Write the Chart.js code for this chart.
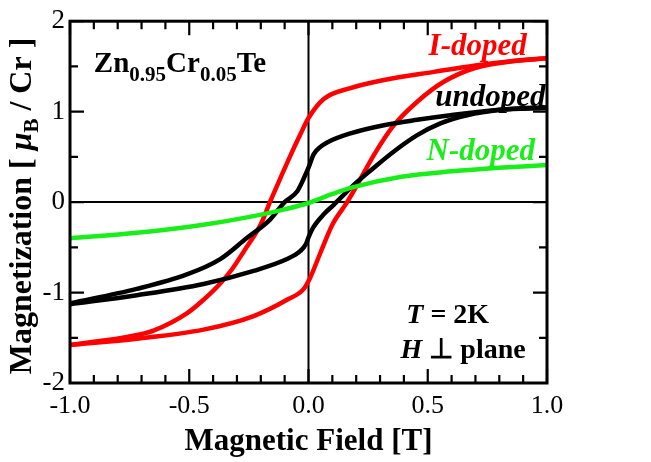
<!DOCTYPE html>
<html>
<head>
<meta charset="utf-8">
<script src="https://cdn.jsdelivr.net/npm/chart.js@4.4.0/dist/chart.umd.min.js"></script>
<style>
html,body{margin:0;padding:0;background:#fff;}
#wrap{width:651px;height:462px;position:relative;}
</style>
</head>
<body>
<div id="wrap"><canvas id="c" width="651" height="462"></canvas></div>
<script>
// ---- data ----
const xTickValues = [-1.0, -0.5, 0.0, 0.5, 1.0];
const yTickValues = [-2, -1, 0, 1, 2];

// I-doped loop (red): field-decreasing and field-increasing branches
const iDownField = [-1.0, -0.86, -0.76, -0.65, -0.51, -0.44, -0.37, -0.32, -0.27, -0.20, -0.16, -0.117, -0.075, -0.034, 0.0, 0.064, 0.176, 0.316, 0.526, 0.70, 0.86, 1.0];
const iDownMag   = [-1.58, -1.53, -1.49, -1.42, -1.23, -1.08, -0.90, -0.74, -0.54, -0.245, 0.01, 0.27, 0.52, 0.75, 0.93, 1.14, 1.26, 1.35, 1.44, 1.51, 1.56, 1.59];
const iUpField   = [-1.0, -0.72, -0.44, -0.23, -0.09, -0.02, 0.008, 0.05, 0.10, 0.162, 0.204, 0.274, 0.358, 0.456, 0.567, 0.694, 0.86, 1.0];
const iUpMag     = [-1.58, -1.51, -1.41, -1.26, -1.08, -0.96, -0.83, -0.56, -0.25, 0.0, 0.19, 0.52, 0.85, 1.11, 1.33, 1.48, 1.56, 1.59];

// undoped loop (black)
const uDownField = [-1.0, -0.72, -0.51, -0.37, -0.26, -0.16, -0.10, -0.047, -0.02, 0.0, 0.022, 0.05, 0.078, 0.176, 0.316, 0.456, 0.595, 0.8, 1.0];
const uDownMag   = [-1.12, -0.96, -0.80, -0.63, -0.40, -0.19, 0.0, 0.12, 0.26, 0.38, 0.53, 0.61, 0.66, 0.76, 0.85, 0.91, 0.96, 1.02, 1.04];
const uUpField   = [-1.0, -0.72, -0.44, -0.23, -0.09, -0.034, -0.01, 0.0, 0.02, 0.064, 0.106, 0.19, 0.274, 0.358, 0.456, 0.553, 0.665, 0.805, 1.0];
const uUpMag     = [-1.13, -1.03, -0.905, -0.76, -0.63, -0.54, -0.46, -0.39, -0.28, -0.135, -0.03, 0.19, 0.38, 0.56, 0.74, 0.87, 0.96, 1.02, 1.05];

// N-doped (green)
const nField = [-1.0, -0.72, -0.44, -0.23, -0.1, 0.0, 0.1, 0.18, 0.39, 0.6, 0.8, 1.0];
const nMag   = [-0.40, -0.34, -0.25, -0.155, -0.08, -0.01, 0.09, 0.16, 0.28, 0.34, 0.38, 0.41];

const pts = (xs, ys) => xs.map((x, i) => ({x: x, y: ys[i]}));

const SERIF = '"Liberation Serif", "Times New Roman", serif';
const RED = '#ff0000', BLACK = '#000000', GREEN = '#1aee1a';

function lineDs(data, color) {
  return {data: data, borderColor: color, backgroundColor: color, borderWidth: 4.5,
          showLine: true, pointRadius: 0, cubicInterpolationMode: 'monotone', fill: false,
          borderCapStyle: 'round', borderJoinStyle: 'round'};
}

const decor = {
  id: 'decor',
  beforeDatasetsDraw(chart) {
    const {ctx, chartArea: a, scales: {x, y}} = chart;
    ctx.save();
    ctx.strokeStyle = '#000';
    ctx.lineWidth = 2;
    const x0 = x.getPixelForValue(0), y0 = y.getPixelForValue(0);
    ctx.beginPath();
    ctx.moveTo(x0, a.top); ctx.lineTo(x0, a.bottom);
    ctx.moveTo(a.left, y0); ctx.lineTo(a.right, y0);
    ctx.stroke();
    ctx.restore();
  },
  afterDatasetsDraw(chart) {
    const {ctx, chartArea: a, scales: {x, y}} = chart;
    ctx.save();
    ctx.strokeStyle = '#000';
    // ticks (inward, all four sides)
    ctx.lineWidth = 2.2;
    ctx.beginPath();
    for (let i = -10; i <= 10; i++) {
      const v = i / 10;
      const px = x.getPixelForValue(v);
      const len = (i % 5 === 0) ? 14 : 8;
      ctx.moveTo(px, a.bottom); ctx.lineTo(px, a.bottom - len);
      ctx.moveTo(px, a.top); ctx.lineTo(px, a.top + len);
    }
    for (let i = -4; i <= 4; i++) {
      const v = i / 2;
      const py = y.getPixelForValue(v);
      const len = (i % 2 === 0) ? 14 : 8;
      ctx.moveTo(a.left, py); ctx.lineTo(a.left + len, py);
      ctx.moveTo(a.right, py); ctx.lineTo(a.right - len, py);
    }
    ctx.stroke();
    // frame
    ctx.lineWidth = 3;
    ctx.strokeRect(a.left, a.top, a.right - a.left, a.bottom - a.top);

    // helpers
    function runs(parts, startX, baseY, align) {
      let total = 0;
      parts.forEach(p => { ctx.font = p.f; total += ctx.measureText(p.t).width; });
      let cx = align === 'right' ? startX - total : startX;
      ctx.textAlign = 'left';
      ctx.textBaseline = 'alphabetic';
      parts.forEach(p => {
        ctx.font = p.f; ctx.fillStyle = p.c || '#000';
        ctx.fillText(p.t, cx, baseY + (p.dy || 0));
        cx += ctx.measureText(p.t).width;
      });
    }
    const B = s => 'bold ' + s + 'px ' + SERIF;
    const BI = s => 'italic bold ' + s + 'px ' + SERIF;

    // curve labels
    runs([{t: 'I-doped', f: BI(31), c: RED}], x.getPixelForValue(0.915), y.getPixelForValue(1.63), 'right');
    runs([{t: 'undoped', f: BI(31), c: BLACK}], x.getPixelForValue(0.994), y.getPixelForValue(1.066), 'right');
    runs([{t: 'N-doped', f: BI(31), c: GREEN}], x.getPixelForValue(0.95), y.getPixelForValue(0.46), 'right');

    // compound
    runs([
      {t: 'Zn', f: B(29)}, {t: '0.95', f: B(21), dy: 9},
      {t: 'Cr', f: B(29)}, {t: '0.05', f: B(21), dy: 9},
      {t: 'Te', f: B(29)}
    ], x.getPixelForValue(-0.90), y.getPixelForValue(1.44), 'left');

    // conditions
    runs([{t: 'T', f: BI(28)}, {t: ' = 2K', f: B(28)}], x.getPixelForValue(0.41), y.getPixelForValue(-1.34), 'left');
    runs([{t: 'H', f: BI(28)}, {t: ' \u22A5 plane', f: B(28)}], x.getPixelForValue(0.386), y.getPixelForValue(-1.725), 'left');

    // y-axis title (rotated)
    const yParts = [
      {t: 'Magnetization [ ', f: B(32)},
      {t: '\u03BC', f: BI(32)},
      {t: 'B', f: B(21), dy: 7},
      {t: ' / Cr ]', f: B(32)}
    ];
    let tot = 0;
    yParts.forEach(p => { ctx.font = p.f; tot += ctx.measureText(p.t).width; });
    ctx.translate(31, 206);
    ctx.rotate(-Math.PI / 2);
    runs(yParts, -tot / 2, 0, 'left');
    ctx.restore();
  }
};

new Chart(document.getElementById('c'), {
  type: 'scatter',
  data: {
    datasets: [
      lineDs(pts(nField, nMag), GREEN),
      lineDs(pts(uDownField, uDownMag), BLACK),
      lineDs(pts(uUpField, uUpMag), BLACK),
      lineDs(pts(iDownField, iDownMag), RED),
      lineDs(pts(iUpField, iUpMag), RED)
    ]
  },
  options: {
    responsive: false,
    animation: false,
    devicePixelRatio: 1,
    layout: {padding: {top: 19, right: 104, left: 0, bottom: 0}},
    plugins: {legend: {display: false}, tooltip: {enabled: false}},
    scales: {
      x: {
        type: 'linear', min: -1, max: 1,
        afterBuildTicks: s => { s.ticks = xTickValues.map(v => ({value: v})); },
        afterFit: s => { s.height = 79; },
        grid: {display: false, drawTicks: false},
        border: {display: false},
        ticks: {color: '#000', font: {family: SERIF, size: 26}, padding: 8,
                callback: v => v.toFixed(1), maxRotation: 0, autoSkip: false},
        title: {display: true, text: 'Magnetic Field [T]', color: '#000',
                font: {family: SERIF, size: 31, weight: 'bold'}, padding: {top: 0, bottom: 1}}
      },
      y: {
        type: 'linear', min: -2, max: 2,
        afterBuildTicks: s => { s.ticks = yTickValues.map(v => ({value: v})); },
        afterFit: s => { s.width = 70; },
        grid: {display: false, drawTicks: false},
        border: {display: false},
        ticks: {color: '#000', font: {family: SERIF, size: 27}, padding: 5,
                callback: v => String(v), autoSkip: false}
      }
    }
  },
  plugins: [decor]
});
</script>
</body>
</html>
